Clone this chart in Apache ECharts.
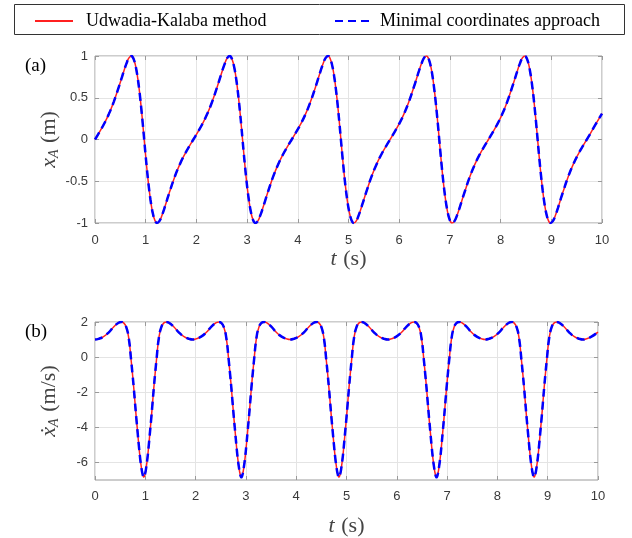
<!DOCTYPE html>
<html><head><meta charset="utf-8">
<script src="https://cdn.jsdelivr.net/npm/echarts@6/dist/echarts.min.js"></script>
<style>html,body{margin:0;padding:0;background:#fff}#c{width:632px;height:538px}</style>
</head><body><div id="c"></div>
<script>
// time samples (s)
const time = [
 0, 0.07, 0.17, 0.27, 0.37, 0.47, 0.52, 0.57, 0.62, 0.67, 0.72, 0.745, 0.77, 0.795, 0.82, 0.845, 0.87, 0.895, 0.92, 0.945, 0.97, 0.995, 1.02, 1.045, 1.07, 1.095, 1.12, 1.145, 1.17, 1.195, 1.22, 1.27, 1.32, 1.37, 1.42, 1.47, 1.57, 1.67, 1.77, 1.87,
 1.94, 2.01, 2.11, 2.21, 2.31, 2.41, 2.46, 2.51, 2.56, 2.61, 2.66, 2.685, 2.71, 2.735, 2.76, 2.785, 2.81, 2.835, 2.86, 2.885, 2.91, 2.935, 2.96, 2.985, 3.01, 3.035, 3.06, 3.085, 3.11, 3.135, 3.16, 3.21, 3.26, 3.31, 3.36, 3.41, 3.51, 3.61, 3.71, 3.81,
 3.88, 3.95, 4.05, 4.15, 4.25, 4.35, 4.40, 4.45, 4.50, 4.55, 4.60, 4.625, 4.65, 4.675, 4.70, 4.725, 4.75, 4.775, 4.80, 4.825, 4.85, 4.875, 4.90, 4.925, 4.95, 4.975, 5.00, 5.025, 5.05, 5.075, 5.10, 5.15, 5.20, 5.25, 5.30, 5.35, 5.45, 5.55, 5.65, 5.75,
 5.82, 5.89, 5.99, 6.09, 6.19, 6.29, 6.34, 6.39, 6.44, 6.49, 6.54, 6.565, 6.59, 6.615, 6.64, 6.665, 6.69, 6.715, 6.74, 6.765, 6.79, 6.815, 6.84, 6.865, 6.89, 6.915, 6.94, 6.965, 6.99, 7.015, 7.04, 7.09, 7.14, 7.19, 7.24, 7.29, 7.39, 7.49, 7.59, 7.69,
 7.76, 7.83, 7.93, 8.03, 8.13, 8.23, 8.28, 8.33, 8.38, 8.43, 8.48, 8.505, 8.53, 8.555, 8.58, 8.605, 8.63, 8.655, 8.68, 8.705, 8.73, 8.755, 8.78, 8.805, 8.83, 8.855, 8.88, 8.905, 8.93, 8.955, 8.98, 9.03, 9.08, 9.13, 9.18, 9.23, 9.33, 9.43, 9.53, 9.63,
 9.70, 9.77, 9.87, 10.0
];
// x_A (m)
const xA = [
 0, 0.071, 0.177, 0.301, 0.451, 0.630, 0.725, 0.821, 0.909, 0.977, 0.999, 0.985, 0.950, 0.896, 0.821, 0.725, 0.610, 0.478, 0.329, 0.168, 0, -0.168, -0.329, -0.478, -0.610, -0.725, -0.821, -0.896, -0.950, -0.985, -0.999, -0.977, -0.909, -0.821, -0.725, -0.630, -0.451, -0.301, -0.177, -0.071,
 0, 0.071, 0.177, 0.301, 0.451, 0.630, 0.725, 0.821, 0.909, 0.977, 0.999, 0.985, 0.950, 0.896, 0.821, 0.725, 0.610, 0.478, 0.329, 0.168, 0, -0.168, -0.329, -0.478, -0.610, -0.725, -0.821, -0.896, -0.950, -0.985, -0.999, -0.977, -0.909, -0.821, -0.725, -0.630, -0.451, -0.301, -0.177, -0.071,
 0, 0.071, 0.177, 0.301, 0.451, 0.630, 0.725, 0.821, 0.909, 0.977, 0.999, 0.985, 0.950, 0.896, 0.821, 0.725, 0.610, 0.478, 0.329, 0.168, 0, -0.168, -0.329, -0.478, -0.610, -0.725, -0.821, -0.896, -0.950, -0.985, -0.999, -0.977, -0.909, -0.821, -0.725, -0.630, -0.451, -0.301, -0.177, -0.071,
 0, 0.071, 0.177, 0.301, 0.451, 0.630, 0.725, 0.821, 0.909, 0.977, 0.999, 0.985, 0.950, 0.896, 0.821, 0.725, 0.610, 0.478, 0.329, 0.168, 0, -0.168, -0.329, -0.478, -0.610, -0.725, -0.821, -0.896, -0.950, -0.985, -0.999, -0.977, -0.909, -0.821, -0.725, -0.630, -0.451, -0.301, -0.177, -0.071,
 0, 0.071, 0.177, 0.301, 0.451, 0.630, 0.725, 0.821, 0.909, 0.977, 0.999, 0.985, 0.950, 0.896, 0.821, 0.725, 0.610, 0.478, 0.329, 0.168, 0, -0.168, -0.329, -0.478, -0.610, -0.725, -0.821, -0.896, -0.950, -0.985, -0.999, -0.977, -0.909, -0.821, -0.725, -0.630, -0.451, -0.301, -0.177, -0.071,
 0, 0.071, 0.177, 0.31
];
// dx_A/dt (m/s)
const vA = [
 1.00, 1.04, 1.17, 1.40, 1.72, 1.96, 2.00, 1.95, 1.72, 1.10, -0.22, -0.95, -1.73, -2.58, -3.43, -4.21, -4.99, -5.70, -6.25, -6.66, -6.85, -6.66, -6.25, -5.70, -4.99, -4.21, -3.43, -2.58, -1.73, -0.95, -0.22, 1.10, 1.72, 1.95, 2.00, 1.96, 1.72, 1.40, 1.17, 1.04,
 1.00, 1.04, 1.17, 1.40, 1.72, 1.96, 2.00, 1.95, 1.72, 1.10, -0.22, -0.95, -1.73, -2.58, -3.43, -4.21, -4.99, -5.70, -6.25, -6.66, -6.85, -6.66, -6.25, -5.70, -4.99, -4.21, -3.43, -2.58, -1.73, -0.95, -0.22, 1.10, 1.72, 1.95, 2.00, 1.96, 1.72, 1.40, 1.17, 1.04,
 1.00, 1.04, 1.17, 1.40, 1.72, 1.96, 2.00, 1.95, 1.72, 1.10, -0.22, -0.95, -1.73, -2.58, -3.43, -4.21, -4.99, -5.70, -6.25, -6.66, -6.85, -6.66, -6.25, -5.70, -4.99, -4.21, -3.43, -2.58, -1.73, -0.95, -0.22, 1.10, 1.72, 1.95, 2.00, 1.96, 1.72, 1.40, 1.17, 1.04,
 1.00, 1.04, 1.17, 1.40, 1.72, 1.96, 2.00, 1.95, 1.72, 1.10, -0.22, -0.95, -1.73, -2.58, -3.43, -4.21, -4.99, -5.70, -6.25, -6.66, -6.85, -6.66, -6.25, -5.70, -4.99, -4.21, -3.43, -2.58, -1.73, -0.95, -0.22, 1.10, 1.72, 1.95, 2.00, 1.96, 1.72, 1.40, 1.17, 1.04,
 1.00, 1.04, 1.17, 1.40, 1.72, 1.96, 2.00, 1.95, 1.72, 1.10, -0.22, -0.95, -1.73, -2.58, -3.43, -4.21, -4.99, -5.70, -6.25, -6.66, -6.85, -6.66, -6.25, -5.70, -4.99, -4.21, -3.43, -2.58, -1.73, -0.95, -0.22, 1.10, 1.72, 1.95, 2.00, 1.96, 1.72, 1.40, 1.17, 1.04,
 1.00, 1.04, 1.17, 1.42
];
const seriesNames = ['Udwadia-Kalaba method', 'Minimal coordinates approach'];
const panelLabels = ['(a)', '(b)'];
const vTicks = [-6, -4, -2, 0, 2];

const xData = time.map((t, i) => [t, xA[i]]);
const vData = time.map((t, i) => [t, vA[i]]);

const serif = 'Liberation Serif';
const sans = 'Liberation Sans';
const frame = '#9a9a9a';
const gridCol = '#e4e4e4';
const labCol = '#3a3a3a';

const nameRich = {
  it: {fontFamily: serif, fontStyle: 'italic', fontSize: 22, color: '#444'},
  sub: {fontFamily: serif, fontStyle: 'italic', fontSize: 14, color: '#444', padding: [9, 0, 0, 0]},
  n: {fontFamily: serif, fontSize: 22, color: '#444'}
};

function xMain(gi) {
  return {
    gridIndex: gi, type: 'value', min: 0, max: 10, interval: 1, position: 'bottom',
    axisLine: {show: false, onZero: false},
    axisTick: {show: true, inside: true, length: 4, lineStyle: {color: frame}},
    axisLabel: {color: labCol, fontSize: 13, fontFamily: sans, margin: gi === 0 ? 11 : 10},
    splitLine: {show: true, lineStyle: {color: gridCol, width: 1}},
    name: '{it|t}  {n|(s)}', nameLocation: 'middle', nameGap: gi === 0 ? 23 : 35,
    nameTextStyle: {rich: nameRich}
  };
}
function xMirror(gi) {
  return {
    gridIndex: gi, type: 'value', min: 0, max: 10, interval: 1, position: 'top',
    axisLine: {show: false, onZero: false},
    axisTick: {show: true, inside: true, length: 4, lineStyle: {color: frame}},
    axisLabel: {show: false}, splitLine: {show: false}
  };
}
function yMain(gi, lo, hi, extra) {
  return Object.assign({
    gridIndex: gi, type: 'value', min: lo, max: hi, position: 'left',
    axisLine: {show: false, onZero: false},
    axisTick: {show: true, inside: true, length: 4, lineStyle: {color: frame}},
    axisLabel: {color: labCol, fontSize: 13, fontFamily: sans, margin: 7},
    splitLine: {show: true, lineStyle: {color: gridCol, width: 1}},
    nameLocation: 'middle', nameRotate: 90, nameGap: 34, nameMoveOverlap: false,
    nameTextStyle: {rich: nameRich}
  }, extra);
}

const legendCommon = {
  itemWidth: 38, itemHeight: 14, top: 7,
  itemStyle: {opacity: 0, borderWidth: 0},
  textStyle: {fontFamily: serif, fontSize: 18, color: '#000'}
};

const option = {
  animation: false,
  backgroundColor: '#fff',
  title: [
    {text: panelLabels[0], left: 20, top: 52, textStyle: {fontFamily: serif, fontSize: 19, fontWeight: 'normal', color: '#000'}},
    {text: panelLabels[1], left: 20, top: 318, textStyle: {fontFamily: serif, fontSize: 19, fontWeight: 'normal', color: '#000'}}
  ],
  graphic: [{
    type: 'rect', left: 12, top: 2, shape: {width: 610, height: 30},
    style: {fill: 'none', stroke: '#333', lineWidth: 1}, silent: true
  }],
  legend: [
    Object.assign({}, legendCommon, {data: [seriesNames[0]], left: 29,
      textStyle: Object.assign({}, legendCommon.textStyle, {padding: [0, 0, 0, 8]})}),
    Object.assign({}, legendCommon, {data: [seriesNames[1]], left: 329,
      textStyle: Object.assign({}, legendCommon.textStyle, {padding: [0, 0, 0, 2]})})
  ],
  grid: [
    {left: 95, right: 30, top: 56, height: 167, show: true, borderColor: frame, borderWidth: 1, backgroundColor: 'transparent'},
    {left: 95, right: 34, top: 322, height: 170, show: true, borderColor: frame, borderWidth: 1, backgroundColor: 'transparent'}
  ],
  xAxis: [xMain(0), xMain(1), xMirror(0), xMirror(1)],
  yAxis: [
    yMain(0, -1, 1, {interval: 0.5, name: '{it|x}{sub|A}  {n|(m)}'}),
    yMain(1, -7, 2, {
      axisTick: {show: true, inside: true, length: 4, lineStyle: {color: frame}, customValues: vTicks},
      axisLabel: {color: labCol, fontSize: 13, fontFamily: sans, margin: 7, customValues: vTicks},
      name: '{it|ẋ}{sub|A}  {n|(m/s)}'}),
    {gridIndex: 0, type: 'value', min: -1, max: 1, interval: 0.5, position: 'right',
     axisLine: {show: false, onZero: false},
     axisTick: {show: true, inside: true, length: 4, lineStyle: {color: frame}},
     axisLabel: {show: false}, splitLine: {show: false}},
    {gridIndex: 1, type: 'value', min: -7, max: 2, position: 'right',
     axisLine: {show: false, onZero: false},
     axisTick: {show: true, inside: true, length: 4, lineStyle: {color: frame}, customValues: vTicks},
     axisLabel: {show: false, customValues: vTicks}, splitLine: {show: false}}
  ],
  series: [
    {name: seriesNames[0], type: 'line', xAxisIndex: 0, yAxisIndex: 0, data: xData, smooth: true,
     symbol: 'none', lineStyle: {color: '#ff2020', width: 1.5}, itemStyle: {color: '#ff2020'}, z: 2},
    {name: seriesNames[1], type: 'line', xAxisIndex: 0, yAxisIndex: 0, data: xData, smooth: true,
     symbol: 'none', lineStyle: {color: '#0000ff', width: 2.5, type: [8, 5]}, itemStyle: {color: '#0000ff'}, z: 3},
    {name: seriesNames[0], type: 'line', xAxisIndex: 1, yAxisIndex: 1, data: vData, smooth: true,
     symbol: 'none', lineStyle: {color: '#ff2020', width: 1.5}, itemStyle: {color: '#ff2020'}, z: 2},
    {name: seriesNames[1], type: 'line', xAxisIndex: 1, yAxisIndex: 1, data: vData, smooth: true,
     symbol: 'none', lineStyle: {color: '#0000ff', width: 2.5, type: [8, 5]}, itemStyle: {color: '#0000ff'}, z: 3}
  ]
};
const chart = echarts.init(document.getElementById('c'), null, {renderer: 'canvas'});
chart.setOption(option);
</script>
</body></html>
